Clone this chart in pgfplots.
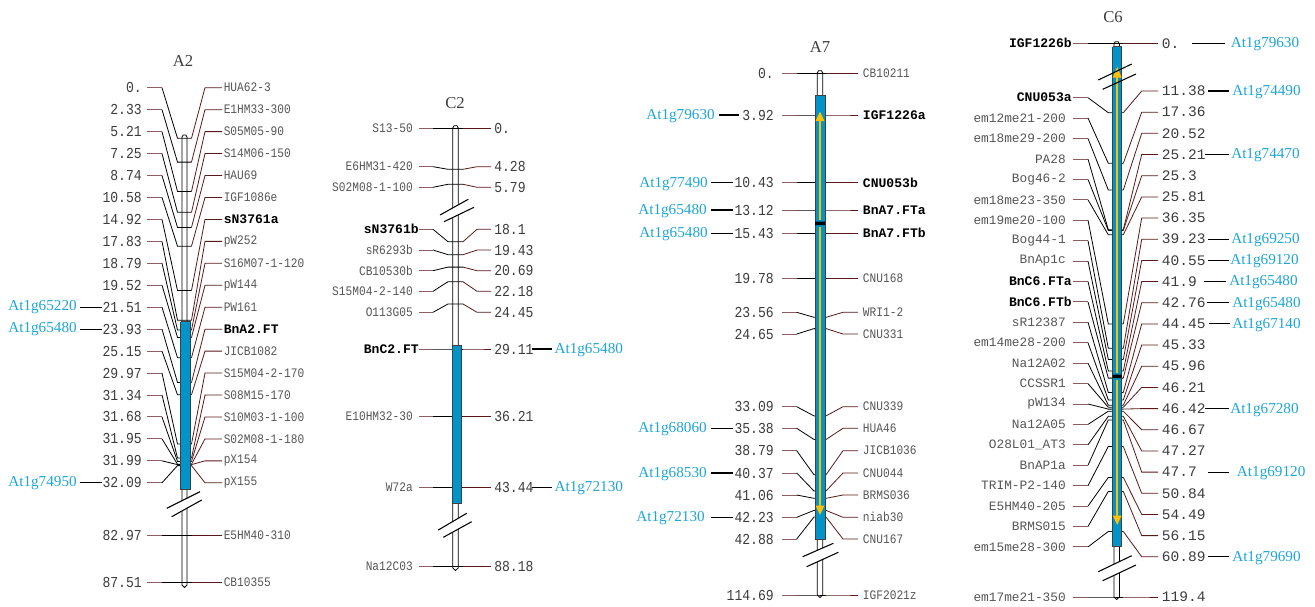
\documentclass[border=0pt]{standalone}
\usepackage{fontspec}
\setmainfont{Liberation Serif}
\newfontfamily\monoN[FakeStretch=0.86]{Liberation Mono}
\newfontfamily\monoW{Liberation Mono}
\newfontfamily\serifA{Liberation Serif}
\usepackage{pgfplots}
\pgfplotsset{compat=1.18}

\definecolor{barblue}{RGB}{0,148,200}
\definecolor{atblue}{RGB}{30,165,215}
\definecolor{gold}{RGB}{255,192,0}
\definecolor{stubcol}{RGB}{140,95,95}
\definecolor{marcol}{RGB}{90,25,25}
\definecolor{txtm}{RGB}{85,85,85}
\definecolor{txtn}{RGB}{60,60,60}

% fonts (1 px = 0.75pt)
\newcommand\mkf{\monoN\fontsize{9.75}{10}\selectfont}
\newcommand\nmf{\monoN\fontsize{11.4}{12}\selectfont}
\newcommand\bdf{\monoW\bfseries\fontsize{9.8}{10}\selectfont}
\newcommand\mkw{\monoW\fontsize{9.6}{10}\selectfont}
\newcommand\nmw{\monoW\fontsize{10.9}{12}\selectfont}
\newcommand\atf{\serifA\fontsize{11.4}{13}\selectfont}
\newcommand\ttf{\serifA\fontsize{12.5}{14}\selectfont}

\pgfplotsset{
  stubc/.style={color=stubcol, line width=0.7pt, mark=none},
  linek/.style={color=black, line width=0.6pt, mark=none},
  linem/.style={color=marcol, line width=0.6pt, mark=none},
  atline/.style={color=black, line width=0.8pt, mark=none},
  chrom/.style={fill=white, draw=black, line width=0.6pt, mark=none},
  qtl/.style={fill=barblue, draw=black!75, line width=0.6pt, mark=none},
  labs/.style={draw=none, mark=none, nodes near coords, point meta=explicit symbolic,
    every node near coord/.append style={inner sep=0pt, #1}},
}

% connector: left label y, chromosome y, right label y
\newcommand\cxset[6]{\def\cxa{#1}\def\cxb{#2}\def\cxc{#3}\def\cxd{#4}\def\cxe{#5}\def\cxf{#6}}
\newcommand\conn[3]{%
  \addplot[stubc] coordinates {(\cxa,#1) (\cxb,#1)};
  \addplot[linek] coordinates {(\cxb,#1) (\cxc,#2) (\cxd,#2)};
  \addplot[linem] coordinates {(\cxd,#2) (\cxe,#3) (\cxf,#3)};}

\begin{document}
\begin{tikzpicture}
\begin{axis}[width=986.25pt, height=455.25pt, scale only axis,
  xmin=0, xmax=1315, ymin=0, ymax=607, y dir=reverse,
  hide axis, clip=false]
\addplot[draw=none] coordinates {(0,0) (1315,607)};

% ---------------- chromosome bodies ----------------
\addplot[chrom] coordinates {(182,585) (182,137) (183.2,135) (185.8,135) (187,137) (187,585) (184.5,587.5) (182,585)};
\addplot[chrom] coordinates {(452.8,568) (452.8,128) (454,125.7) (457,125.7) (458.2,128) (458.2,568) (455.5,570.5) (452.8,568)};
\addplot[chrom] coordinates {(817.3,595) (817.3,73) (818.5,70.7) (821.5,70.7) (822.7,73) (822.7,595) (820,597.5) (817.3,595)};
\addplot[chrom] coordinates {(1114,597) (1114,44) (1115.2,41.7) (1118.2,41.7) (1119.4,44) (1119.4,597) (1116.7,599.5) (1114,597)};

% ---------------- A2 connectors ----------------
\cxset{147}{162}{177.5}{191.5}{205}{222}
\conn{87.7}{138.3}{87.7}
\conn{109.65}{162.1}{109.65}
\conn{131.6}{191.4}{131.6}
\conn{153.55}{212.3}{153.55}
\conn{175.5}{227.4}{175.5}
\conn{197.45}{246.2}{197.45}
\conn{219.4}{290.5}{219.4}
\conn{241.35}{320.2}{241.35}
\conn{263.3}{330.0}{263.3}
\conn{285.25}{337.4}{285.25}
\conn{307.2}{357.7}{307.2}
\conn{329.15}{382.4}{329.15}
\conn{351.1}{394.8}{351.1}
\conn{373.05}{444.0}{373.05}
\conn{395.0}{458.0}{395.0}
\conn{416.95}{461.4}{416.95}
\conn{438.9}{464.2}{438.9}
\conn{460.85}{464.6}{460.85}
\conn{482.8}{465.6}{482.8}
\conn{535.7}{535.7}{535.7}
\conn{582.3}{582.3}{582.3}

% ---------------- C2 connectors ----------------
\cxset{419}{433}{448}{463}{477}{491}
\conn{128.3}{128.3}{128.3}
\conn{166.7}{169.3}{166.7}
\conn{187.3}{184.3}{187.3}
\conn{229.3}{241.7}{229.3}
\conn{250.0}{254.7}{250.0}
\conn{270.7}{267.1}{270.7}
\conn{291.3}{281.7}{291.3}
\conn{312.3}{304.0}{312.3}
\conn{349.0}{349.0}{349.0}
\conn{416.7}{416.7}{416.7}
\conn{487.3}{487.3}{487.3}
\conn{566.7}{566.7}{566.7}

% ---------------- A7 connectors ----------------
\cxset{781.7}{796.7}{814}{826}{843}{858}
\conn{73.7}{73.7}{73.7}
\conn{115.0}{115.0}{115.0}
\conn{182.7}{182.7}{182.7}
\conn{210.0}{210.0}{210.0}
\conn{233.3}{233.3}{233.3}
\conn{278.3}{278.3}{278.3}
\conn{312.3}{317.3}{312.3}
\conn{334.0}{328.6}{334.0}
\conn{406.7}{415.9}{406.7}
\conn{428.3}{439.5}{428.3}
\conn{450.7}{474.8}{450.7}
\conn{473.0}{491.0}{473.0}
\conn{495.0}{498.3}{495.0}
\conn{517.3}{510.4}{517.3}
\conn{539.0}{517.0}{539.0}
\conn{595.0}{595.0}{595.0}

% ---------------- C6 connectors ----------------
\cxset{1073}{1088}{1108.3}{1123.3}{1141.7}{1158}
\conn{43.3}{43.3}{43.3}
\conn{97.7}{112.7}{91.0}
\conn{118.1}{163.3}{112.2}
\conn{138.5}{190.0}{133.3}
\conn{159.0}{229.7}{154.5}
\conn{179.4}{230.4}{175.7}
\conn{199.8}{234.8}{196.9}
\conn{220.2}{323.9}{218.0}
\conn{240.6}{348.3}{239.2}
\conn{261.1}{359.4}{260.4}
\conn{281.5}{370.9}{281.5}
\conn{301.9}{378.1}{302.7}
\conn{322.3}{392.4}{323.9}
\conn{342.7}{399.9}{345.0}
\conn{363.2}{405.2}{366.2}
\conn{383.6}{407.3}{387.4}
\conn{404.0}{409.1}{408.6}
\conn{424.4}{411.2}{429.7}
\conn{444.8}{416.3}{450.9}
\conn{465.3}{419.9}{472.1}
\conn{485.7}{446.5}{493.3}
\conn{506.1}{477.4}{514.4}
\conn{526.5}{491.4}{535.6}
\conn{546.9}{531.5}{556.7}
\conn{597.0}{597.0}{597.0}

% ---------------- QTL bars ----------------
\addplot[qtl] coordinates {(180.5,321.7) (190,321.7) (190,489) (180.5,489) (180.5,321.7)};
\addplot[qtl] coordinates {(452.3,345) (461.7,345) (461.7,503.3) (452.3,503.3) (452.3,345)};
\addplot[qtl] coordinates {(815,95.7) (825,95.7) (825,539) (815,539) (815,95.7)};
\addplot[qtl] coordinates {(1112.7,46.7) (1121.7,46.7) (1121.7,546.7) (1112.7,546.7) (1112.7,46.7)};
% separators
\addplot[fill=black, draw=none] coordinates {(815,221.5) (825,221.5) (825,225) (815,225) (815,221.5)};
\addplot[fill=black, draw=none] coordinates {(1112.7,374.5) (1121.7,374.5) (1121.7,378) (1112.7,378) (1112.7,374.5)};
% arrows
\addplot[gold, line width=1.6pt, mark=none] coordinates {(820,220) (820,120)};
\addplot[fill=gold, draw=none] coordinates {(815.6,121) (824.4,121) (820,111.5) (815.6,121)};
\addplot[gold, line width=1.6pt, mark=none] coordinates {(820,226.5) (820,506)};
\addplot[fill=gold, draw=none] coordinates {(815.6,505.5) (824.4,505.5) (820,515) (815.6,505.5)};
\addplot[gold, line width=1.6pt, mark=none] coordinates {(1117.2,373) (1117.2,77)};
\addplot[fill=gold, draw=none] coordinates {(1112.8,77.5) (1121.6,77.5) (1117.2,66.7) (1112.8,77.5)};
\addplot[gold, line width=1.6pt, mark=none] coordinates {(1117.2,380) (1117.2,516)};
\addplot[fill=gold, draw=none] coordinates {(1112.8,515.5) (1121.6,515.5) (1117.2,525) (1112.8,515.5)};

% ---------------- breaks ----------------
\addplot[fill=white, draw=none] coordinates {(166.7,508.3) (200,491.7) (201.7,500) (171.7,516.7) (166.7,508.3)};
\addplot[linek, line width=0.8pt] coordinates {(166.7,508.3) (200,491.7)};
\addplot[linek, line width=0.8pt] coordinates {(171.7,516.7) (201.7,500)};
\addplot[fill=white, draw=none] coordinates {(440,215) (468.3,199.3) (474,207.3) (444,221.7) (440,215)};
\addplot[linek, line width=0.8pt] coordinates {(440,215) (468.3,199.3)};
\addplot[linek, line width=0.8pt] coordinates {(444,221.7) (474,207.3)};
\addplot[fill=white, draw=none] coordinates {(438.3,530) (466.7,513.3) (471.7,521.7) (443.3,537.3) (438.3,530)};
\addplot[linek, line width=0.8pt] coordinates {(438.3,530) (466.7,513.3)};
\addplot[linek, line width=0.8pt] coordinates {(443.3,537.3) (471.7,521.7)};
\addplot[fill=white, draw=none] coordinates {(802.7,556.7) (833.3,543.3) (838.3,552.3) (806.7,566.7) (802.7,556.7)};
\addplot[linek, line width=0.8pt] coordinates {(802.7,556.7) (833.3,543.3)};
\addplot[linek, line width=0.8pt] coordinates {(806.7,566.7) (838.3,552.3)};
\addplot[linek, line width=0.8pt] coordinates {(1098.3,80) (1131.7,64)};
\addplot[linek, line width=0.8pt] coordinates {(1102.7,89.3) (1136,74)};
\addplot[fill=white, draw=none] coordinates {(1098.3,571.7) (1131.7,555.7) (1136,565) (1102.7,580.7) (1098.3,571.7)};
\addplot[linek, line width=0.8pt] coordinates {(1098.3,571.7) (1131.7,555.7)};
\addplot[linek, line width=0.8pt] coordinates {(1102.7,580.7) (1136,565)};

% ---------------- titles ----------------
\addplot[labs={anchor=center, font=\ttf, text=txtn}] coordinates {(183,61) [A2] (455,103.3) [C2] (820,46.7) [A7] (1113,16.7) [C6]};

% ---------------- A2 labels ----------------
\addplot[labs={anchor=east, font=\nmf, text=txtn}] coordinates {
 (142,87.7) [0.] (142,109.65) [2.33] (142,131.6) [5.21] (142,153.55) [7.25]
 (142,175.5) [8.74] (142,197.45) [10.58] (142,219.4) [14.92] (142,241.35) [17.83]
 (142,263.3) [18.79] (142,285.25) [19.52] (142,307.2) [21.51] (142,329.15) [23.93]
 (142,351.1) [25.15] (142,373.05) [29.97] (142,395) [31.34] (142,416.95) [31.68]
 (142,438.9) [31.95] (142,460.85) [31.99] (142,482.8) [32.09] (142,535.7) [82.97]
 (142,582.3) [87.51]};
\addplot[labs={anchor=west, font=\mkf, text=txtm}] coordinates {
 (223.5,87.7) [HUA62-3] (223.5,109.65) [E1HM33-300] (223.5,131.6) [S05M05-90]
 (223.5,153.55) [S14M06-150] (223.5,175.5) [HAU69] (223.5,197.45) [IGF1086e]
 (223.5,241.35) [pW252] (223.5,263.3) [S16M07-1-120] (223.5,285.25) [pW144]
 (223.5,307.2) [PW161] (223.5,351.1) [JICB1082] (223.5,373.05) [S15M04-2-170]
 (223.5,395) [S08M15-170] (223.5,416.95) [S10M03-1-100] (223.5,438.9) [S02M08-1-180]
 (223.5,460.85) [pX154] (223.5,482.8) [pX155] (223.5,535.7) [E5HM40-310]
 (223.5,582.3) [CB10355]};
\addplot[labs={anchor=west, font=\bdf, text=black}] coordinates {
 (223.5,219.4) [sN3761a] (223.5,329.15) [BnA2.FT]};
\addplot[atline] coordinates {(80,307.2) (101.7,307.2)};
\addplot[atline] coordinates {(80,329.15) (101.7,329.15)};
\addplot[atline] coordinates {(80,482.8) (101.7,482.8)};
\addplot[labs={anchor=east, font=\atf, text=atblue}] coordinates {
 (77,307.2) [At1g65220] (77,329.15) [At1g65480] (77,482.8) [At1g74950]};

% ---------------- C2 labels ----------------
\addplot[labs={anchor=east, font=\mkf, text=txtm}] coordinates {
 (413,128.3) [S13-50] (413,166.7) [E6HM31-420] (413,187.3) [S02M08-1-100]
 (413,250) [sR6293b] (413,270.7) [CB10530b] (413,291.3) [S15M04-2-140]
 (413,312.3) [O113G05] (413,416.7) [E10HM32-30] (413,487.3) [W72a]
 (413,566.7) [Na12C03]};
\addplot[labs={anchor=east, font=\bdf, text=black}] coordinates {
 (419,229.3) [sN3761b] (419,349) [BnC2.FT]};
\addplot[labs={anchor=west, font=\nmf, text=txtn}] coordinates {
 (494,128.3) [0.] (494,166.7) [4.28] (494,187.3) [5.79] (494,229.3) [18.1]
 (494,250) [19.43] (494,270.7) [20.69] (494,291.3) [22.18] (494,312.3) [24.45]
 (494,349) [29.11] (494,416.7) [36.21] (494,487.3) [43.44] (494,566.7) [88.18]};
\addplot[atline] coordinates {(531.7,349) (551.7,349)};
\addplot[atline] coordinates {(531.7,487.3) (551.7,487.3)};
\addplot[labs={anchor=west, font=\atf, text=atblue}] coordinates {
 (554.3,350) [At1g65480] (554.3,488.3) [At1g72130]};

% ---------------- A7 labels ----------------
\addplot[labs={anchor=east, font=\nmf, text=txtn}] coordinates {
 (774,73.7) [0.] (774,115) [3.92] (774,182.7) [10.43] (774,210) [13.12]
 (774,233.3) [15.43] (774,278.3) [19.78] (774,312.3) [23.56] (774,334) [24.65]
 (774,406.7) [33.09] (774,428.3) [35.38] (774,450.7) [38.79] (774,473) [40.37]
 (774,495) [41.06] (774,517.3) [42.23] (774,539) [42.88] (774,595) [114.69]};
\addplot[labs={anchor=west, font=\mkf, text=txtm}] coordinates {
 (862.7,73.7) [CB10211] (862.7,278.3) [CNU168] (862.7,312.3) [WRI1-2]
 (862.7,334) [CNU331] (862.7,406.7) [CNU339] (862.7,428.3) [HUA46]
 (862.7,450.7) [JICB1036] (862.7,473) [CNU044] (862.7,495) [BRMS036]
 (862.7,517.3) [niab30] (862.7,539) [CNU167] (862.7,595) [IGF2021z]};
\addplot[labs={anchor=west, font=\bdf, text=black}] coordinates {
 (862.7,115) [IGF1226a] (862.7,182.7) [CNU053b] (862.7,210) [BnA7.FTa]
 (862.7,233.3) [BnA7.FTb]};
\addplot[atline] coordinates {(719,115) (739,115)};
\addplot[atline] coordinates {(711,182.7) (733,182.7)};
\addplot[atline] coordinates {(711,210) (733,210)};
\addplot[atline] coordinates {(711,233.3) (733,233.3)};
\addplot[atline] coordinates {(711,428.3) (733,428.3)};
\addplot[atline] coordinates {(711,473) (733,473)};
\addplot[atline] coordinates {(711,517.3) (733,517.3)};
\addplot[labs={anchor=east, font=\atf, text=atblue}] coordinates {
 (715,116) [At1g79630] (708,183.7) [At1g77490] (707,211) [At1g65480]
 (708,234.3) [At1g65480] (707,429.3) [At1g68060] (707,474) [At1g68530]
 (705,518.3) [At1g72130]};

% ---------------- C6 labels ----------------
\addplot[labs={anchor=east, font=\mkw, text=txtm}] coordinates {
 (1066,118.1) [em12me21-200] (1066,138.5) [em18me29-200] (1066,159) [PA28]
 (1066,179.4) [Bog46-2] (1066,199.8) [em18me23-350] (1066,220.2) [em19me20-100]
 (1066,240.6) [Bog44-1] (1066,261.1) [BnAp1c] (1066,322.3) [sR12387]
 (1066,342.7) [em14me28-200] (1066,363.2) [Na12A02] (1066,383.6) [CCSSR1]
 (1066,404) [pW134] (1066,424.4) [Na12A05] (1066,444.8) [O28L01\_AT3]
 (1066,465.3) [BnAP1a] (1066,485.7) [TRIM-P2-140] (1066,506.1) [E5HM40-205]
 (1066,526.5) [BRMS015] (1066,546.9) [em15me28-300] (1066,597) [em17me21-350]};
\addplot[labs={anchor=east, font=\bdf, text=black}] coordinates {
 (1072,43.3) [IGF1226b] (1072,97.7) [CNU053a] (1072,281.5) [BnC6.FTa]
 (1072,301.9) [BnC6.FTb]};
\addplot[labs={anchor=west, font=\nmw, text=txtn}] coordinates {
 (1161.7,43.3) [0.] (1161.7,91) [11.38] (1161.7,112.2) [17.36] (1161.7,133.3) [20.52]
 (1161.7,154.5) [25.21] (1161.7,175.7) [25.3] (1161.7,196.9) [25.81] (1161.7,218) [36.35]
 (1161.7,239.2) [39.23] (1161.7,260.4) [40.55] (1161.7,281.5) [41.9] (1161.7,302.7) [42.76]
 (1161.7,323.9) [44.45] (1161.7,345) [45.33] (1161.7,366.2) [45.96] (1161.7,387.4) [46.21]
 (1161.7,408.6) [46.42] (1161.7,429.7) [46.67] (1161.7,450.9) [47.27] (1161.7,472.1) [47.7]
 (1161.7,493.3) [50.84] (1161.7,514.4) [54.49] (1161.7,535.6) [56.15] (1161.7,556.7) [60.89]
 (1161.7,597) [119.4]};
\addplot[atline] coordinates {(1192,43.3) (1225,43.3)};
\addplot[atline] coordinates {(1208,91) (1229,91)};
\addplot[atline] coordinates {(1205,154.5) (1229,154.5)};
\addplot[atline] coordinates {(1208,239.2) (1229,239.2)};
\addplot[atline] coordinates {(1208,260.4) (1229,260.4)};
\addplot[atline] coordinates {(1204,281.5) (1226,281.5)};
\addplot[atline] coordinates {(1207,302.7) (1229,302.7)};
\addplot[atline] coordinates {(1209,323.9) (1230,323.9)};
\addplot[atline] coordinates {(1205,408.6) (1229,408.6)};
\addplot[atline] coordinates {(1208,472.1) (1229,472.1)};
\addplot[atline] coordinates {(1208,556.7) (1229,556.7)};
\addplot[labs={anchor=west, font=\atf, text=atblue}] coordinates {
 (1230.5,44.3) [At1g79630] (1232,92) [At1g74490] (1231,155.5) [At1g74470]
 (1231,240.2) [At1g69250] (1230,261.4) [At1g69120] (1229,282.5) [At1g65480]
 (1232,303.7) [At1g65480] (1232,324.9) [At1g67140] (1230,409.6) [At1g67280]
 (1236.7,473.1) [At1g69120] (1232,557.7) [At1g79690]};
\end{axis}
\end{tikzpicture}
\end{document}
